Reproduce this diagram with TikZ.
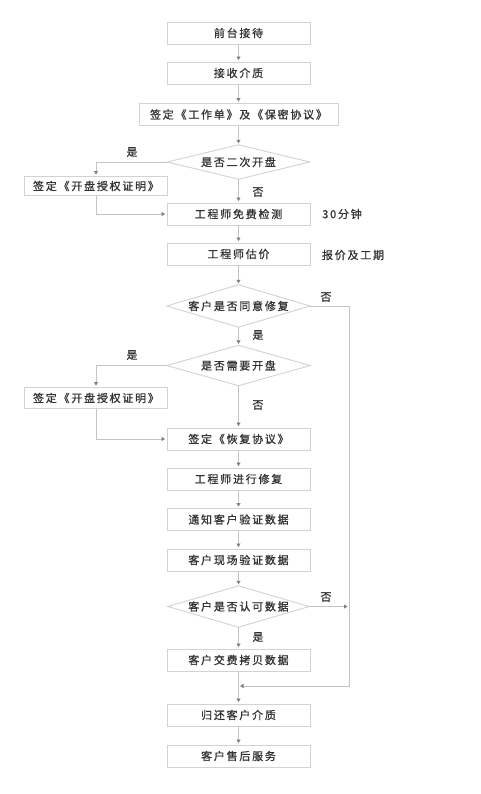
\documentclass[tikz,border=0pt]{standalone}
\usepackage{fontspec}
\newfontfamily\cjk[LetterSpace=16,FakeBold=0.9]{Noto Sans CJK SC}
\usetikzlibrary{arrows.meta}
\definecolor{boxc}{HTML}{D2D2D2}
\definecolor{linec}{HTML}{C4C4C4}
\definecolor{tipc}{HTML}{808080}
\definecolor{txt}{HTML}{333333}
\tikzset{
  box/.style={draw=boxc, line width=0.9pt, minimum width=143pt, minimum height=22pt, inner sep=0pt,
    font=\cjk\fontsize{11}{12}\selectfont, text=txt},
  dia/.style={minimum width=143pt, minimum height=42pt, inner sep=0pt,
    font=\cjk\fontsize{11}{12}\selectfont, text=txt},
  diaborder/.style={draw=boxc, line width=0.9pt},
  lbl/.style={font=\cjk\fontsize{11}{12}\selectfont, text=txt, inner sep=0pt},
  conn/.style={draw=linec, line width=0.8pt, -{Triangle[width=4pt,length=3.5pt,color=tipc]}, shorten >=1.5pt},
  plain/.style={draw=linec, line width=0.8pt}
}
\begin{document}
\begin{tikzpicture}[x=1pt,y=-1pt]
\path[use as bounding box, fill=white] (0,0) rectangle (481,794);

\node[box] (n1) at (238.5,33) {前台接待};
\node[box] (n2) at (238.5,73) {接收介质};
\node[box, minimum width=199pt] (n3) at (238.5,114.5) {签定《工作单》及《保密协议》};
\node[dia, minimum width=142pt, minimum height=34pt] (d1) at (238.5,162) {是否二次开盘};
\node[box, minimum height=19pt] (s1) at (96,186) {签定《开盘授权证明》};
\node[box] (n5) at (238.5,214) {工程师免费检测};
\node[lbl] (t1) at (342,214) {30分钟};
\node[box] (n6) at (238.5,254) {工程师估价};
\node[lbl] (t2) at (353,255) {报价及工期};
\node[dia] (d2) at (238.5,306) {客户是否同意修复};
\node[dia, minimum height=40pt] (d3) at (238.5,365.5) {是否需要开盘};
\node[box, minimum height=21pt] (s2) at (96,398) {签定《开盘授权证明》};
\node[box] (n7) at (238.5,439) {签定《恢复协议》};
\node[box] (n8) at (238.5,479) {工程师进行修复};
\node[box] (n9) at (238.5,519.5) {通知客户验证数据};
\node[box] (n10) at (238.5,560) {客户现场验证数据};
\node[dia, minimum width=141pt, minimum height=41pt] (d4) at (238.5,606.5) {客户是否认可数据};
\node[box] (n11) at (238.5,660) {客户交费拷贝数据};
\node[box] (n12) at (238.5,715) {归还客户介质};
\node[box] (n13) at (238.5,756) {客户售后服务};

\foreach \d in {d1,d2,d3,d4}
  \draw[diaborder] (\d.west) -- (\d.north) -- (\d.east) -- (\d.south) -- cycle;

\coordinate (rline) at (349,606.5);
\coordinate (merge) at (238.5,686);

% labels
\node[lbl] (y1) at (132,152) {是};
\node[lbl] (no1) at (258,192) {否};
\node[lbl] (no2) at (326,297) {否};
\node[lbl] (y2) at (258,335) {是};
\node[lbl] (y3) at (132,355) {是};
\node[lbl] (no3) at (258,405) {否};
\node[lbl] (no4) at (326,597) {否};
\node[lbl] (y4) at (258,637) {是};

% connectors
\draw[conn] (n1) -- (n2);
\draw[conn] (n2) -- (n3);
\draw[conn] (n3) -- (d1.north);
\draw[conn] (d1.south) -- (n5);
\draw[conn] (d1.west) -| (s1.north);
\draw[conn] (s1.south) |- (n5.west);
\draw[conn] (n5) -- (n6);
\draw[conn] (n6) -- (d2.north);
\draw[conn] (d2.south) -- (d3.north);
\draw[conn] (d3.west) -| (s2.north);
\draw[conn] (d3.south) -- (n7);
\draw[conn] (s2.south) |- (n7.west);
\draw[conn] (n7) -- (n8);
\draw[conn] (n8) -- (n9);
\draw[conn] (n9) -- (n10);
\draw[conn] (n10) -- (d4.north);
\draw[conn] (d4.south) -- (n11);
\draw[conn] (d4.east) -- (rline);
\draw[conn] (d2.east) -| (349,686) -- (merge);
\draw[conn] (n11) -- (n12);
\draw[conn] (n12) -- (n13);
\end{tikzpicture}
\end{document}
